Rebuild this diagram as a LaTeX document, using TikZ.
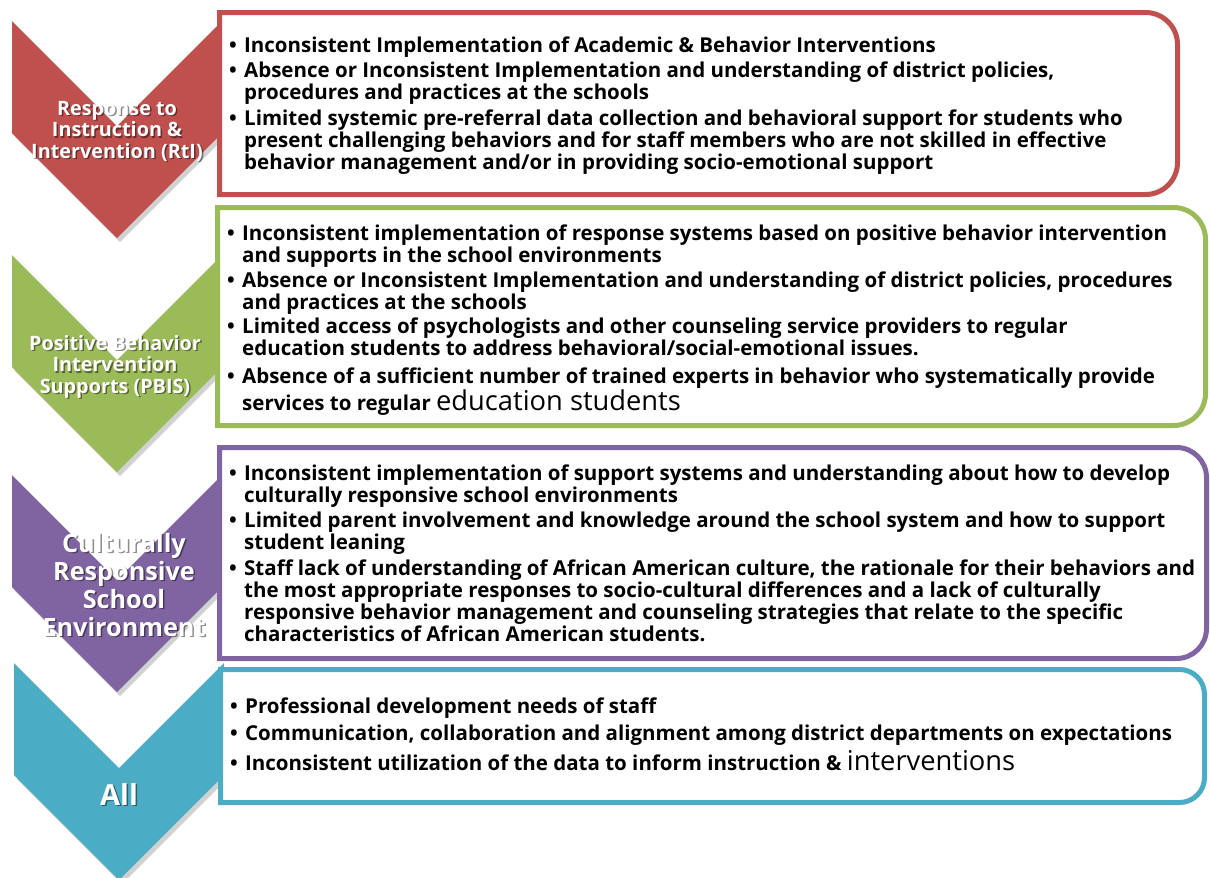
\documentclass[tikz,border=0pt]{standalone}
\usepackage{fontspec}
\setmainfont{Open Sans}
\definecolor{cred}{HTML}{C0504D}
\definecolor{cgreen}{HTML}{9BBB59}
\definecolor{cpurple}{HTML}{8064A2}
\definecolor{cteal}{HTML}{4BACC6}
\newcommand{\bodyfnt}{\fontsize{20.5}{22}\selectfont\bfseries}
\newcommand{\bigw}[1]{{\fontsize{27.3}{22}\selectfont\mdseries #1}}
\newcommand{\bl}[1]{\makebox[15pt][l]{\textbullet}\begin{tabular}[t]{@{}l@{}}#1\end{tabular}}
\newcommand{\lines}[1]{\begin{tabular}[t]{@{}c@{}}#1\end{tabular}}
\newcommand{\panelpath}[5]{(#1,-#2) -- ({#3-#5},-#2) arc[start angle=90,end angle=0,radius=#5] -- (#3,{-#4+#5}) arc[start angle=0,end angle=-90,radius=#5] -- (#1,-#4) -- cycle}
\begin{document}
\begin{tikzpicture}[x=1pt,y=1pt,
  chevron/.pic={\fill (-105,0) -- (0,-105) -- (105,0) -- (105,-112) -- (0,-217) -- (-105,-112) -- cycle;},
  shad/.style={fill=black,opacity=0.18},
  panel/.style={line width=5pt,fill=white},
  bul/.style={anchor=base west,inner sep=0pt,font=\bodyfnt,text=black},
  lab/.style={anchor=base,inner sep=0pt,text=white},
  labsh/.style={anchor=base,inner sep=0pt,text=black,opacity=0.45},
  smallab/.style={font=\fontsize{19.8}{21.5}\selectfont\bfseries},
  biglab/.style={font=\fontsize{25.2}{28}\selectfont\bfseries},
  alllab/.style={font=\fontsize{29}{30}\selectfont\bfseries}
]
\useasboundingbox (0,0) rectangle (1210,-878);
\fill[white] (0,0) rectangle (1210,-878);

% chevrons
\pic[shad] at (120,-25) {chevron};
\pic[fill=cred] at (117,-21) {chevron};
\pic[shad] at (120,-259) {chevron};
\pic[fill=cgreen] at (117,-255) {chevron};
\pic[shad] at (120,-479) {chevron};
\pic[fill=cpurple] at (117,-475) {chevron};
\pic[shad] at (122,-667) {chevron};
\pic[fill=cteal] at (119,-663) {chevron};

% panels
\draw[panel,draw=cred] \panelpath{219.5}{12.5}{1177.5}{194.5}{32};
\draw[panel,draw=cgreen] \panelpath{217.5}{207.5}{1205.5}{425.5}{32};
\draw[panel,draw=cpurple] \panelpath{219.5}{447.5}{1206.5}{658.5}{30};
\draw[panel,draw=cteal] \panelpath{220.5}{669.5}{1204.5}{802.5}{25};

% chevron labels
\node[labsh,smallab] (l1s) at (118.5,-116.5) {\lines{Response to\\Instruction \&\\Intervention (RtI)}};
\node[lab,smallab] (l1) at (117,-115) {\lines{Response to\\Instruction \&\\Intervention (RtI)}};
\node[labsh,smallab] (l2s) at (116.5,-351.5) {\lines{Positive Behavior\\Intervention\\Supports (PBIS)}};
\node[lab,smallab] (l2) at (115,-350) {\lines{Positive Behavior\\Intervention\\Supports (PBIS)}};
\node[labsh,biglab] (l3s) at (125.5,-553.5) {\lines{Culturally\\Responsive\\School\\Environment}};
\node[lab,biglab] (l3) at (124,-552) {\lines{Culturally\\Responsive\\School\\Environment}};
\node[labsh,alllab] (l4s) at (120.5,-806.5) {All};
\node[lab,alllab] (l4) at (119,-805) {All};

% box 1
\node[bul] (a1) at (229,-52) {\bl{Inconsistent Implementation of Academic \& Behavior Interventions}};
\node[bul] (a2) at (229,-77) {\bl{Absence or Inconsistent Implementation and understanding of district policies,\\procedures and practices at the schools}};
\node[bul] (a3) at (229,-125) {\bl{Limited systemic pre-referral data collection and behavioral support for students who\\present challenging behaviors and for staff members who are not skilled in effective\\behavior management and/or in providing socio-emotional support}};

% box 2
\node[bul] (b1) at (227,-240) {\bl{Inconsistent implementation of response systems based on positive behavior intervention\\and supports in the school environments}};
\node[bul] (b2) at (227,-287) {\bl{Absence or Inconsistent Implementation and understanding of district policies, procedures\\and practices at the schools}};
\node[bul] (b3) at (227,-333) {\bl{Limited access of psychologists and other counseling service providers to regular\\education students to address behavioral/social-emotional issues.}};
\node[bul] (b4) at (227,-383) {\bl{Absence of a sufficient number of trained experts in behavior who systematically provide\\services to regular \bigw{education students}}};

% box 3
\node[bul] (c1) at (229,-480) {\bl{Inconsistent implementation of support systems and understanding about how to develop\\culturally responsive school environments}};
\node[bul] (c2) at (229,-527) {\bl{Limited parent involvement and knowledge around the school system and how to support\\student leaning}};
\node[bul] (c3) at (229,-575) {\bl{Staff lack of understanding of African American culture, the rationale for their behaviors and\\the most appropriate responses to socio-cultural differences and a lack of culturally\\responsive behavior management and counseling strategies that relate to the specific\\characteristics of African American students.}};

% box 4
\node[bul] (d1) at (230,-713) {\bl{Professional development needs of staff}};
\node[bul] (d2) at (230,-740) {\bl{Communication, collaboration and alignment among district departments on expectations}};
\node[bul] (d3) at (230,-770) {\bl{Inconsistent utilization of the data to inform instruction \& \bigw{interventions}}};
\end{tikzpicture}
\end{document}
